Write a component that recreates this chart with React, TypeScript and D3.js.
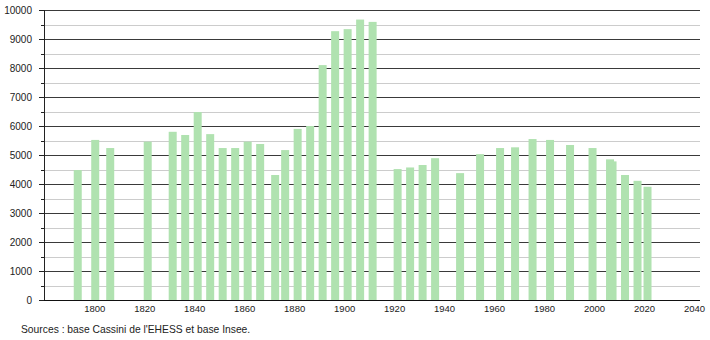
import React from "react";
import * as d3 from "d3";

const years = [1793, 1800, 1806, 1821, 1831, 1836, 1841, 1846, 1851, 1856, 1861, 1866, 1872, 1876, 1881, 1886, 1891, 1896, 1901, 1906, 1911, 1921, 1926, 1931, 1936, 1946, 1954, 1962, 1968, 1975, 1982, 1990, 1999, 2006, 2007, 2012, 2017, 2021];
const population = [4480, 5520, 5240, 5460, 5800, 5690, 6480, 5720, 5240, 5240, 5460, 5380, 4310, 5170, 5900, 6000, 8100, 9270, 9340, 9670, 9590, 4515, 4570, 4655, 4890, 4375, 5030, 5240, 5265, 5550, 5520, 5345, 5240, 4850, 4780, 4310, 4110, 3905];
const xTicks = [1800, 1820, 1840, 1860, 1880, 1900, 1920, 1940, 1960, 1980, 2000, 2020, 2040];
const yMajor = [0, 1000, 2000, 3000, 4000, 5000, 6000, 7000, 8000, 9000, 10000];
const yMinor = [500, 1500, 2500, 3500, 4500, 5500, 6500, 7500, 8500, 9500];
const sourceText = "Sources : base Cassini de l'EHESS et base Insee.";

const W = 710;
const H = 340;
const FONT = "'Liberation Sans', Arial, Helvetica, sans-serif";

export default function App() {
  const x = d3.scaleLinear().domain([1779.5, 2042]).range([44, 700]);
  const y = d3.scaleLinear().domain([0, 10000]).range([300, 10]);
  const barW = 8;
  const data = years.map((yr, i) => ({ yr, v: population[i] }));

  return (
    <svg
      width={W}
      height={H}
      viewBox={`0 0 ${W} ${H}`}
      style={{ position: "absolute", left: 0, top: 0, background: "#fff" }}
    >
      <rect x={0} y={0} width={W} height={H} fill="#fff" />
      {yMinor.map((v) => (
        <line key={"mi" + v} x1={44} x2={700} y1={Math.round(y(v)) + 0.5} y2={Math.round(y(v)) + 0.5} stroke="#cccccc" strokeWidth={1} />
      ))}
      {yMajor.map((v) => (
        <line key={"ma" + v} x1={44} x2={700} y1={Math.round(y(v)) + 0.5} y2={Math.round(y(v)) + 0.5} stroke="#3a3a3a" strokeWidth={1} />
      ))}
      {data.map((d) => (
        <rect
          key={d.yr}
          x={x(d.yr) - barW / 2}
          y={y(d.v)}
          width={barW}
          height={y(0) - y(d.v)}
          fill="#b0e2b0"
        />
      ))}
      <line x1={44.5} x2={44.5} y1={y(10000)} y2={y(0) + 0.5} stroke="#222" strokeWidth={1} />
      {yMajor.map((v) => (
        <line key={"tk" + v} x1={39} x2={44} y1={Math.round(y(v)) + 0.5} y2={Math.round(y(v)) + 0.5} stroke="#222" strokeWidth={1} />
      ))}
      {yMinor.map((v) => (
        <line key={"tm" + v} x1={41} x2={44} y1={Math.round(y(v)) + 0.5} y2={Math.round(y(v)) + 0.5} stroke="#222" strokeWidth={1} />
      ))}
      {yMajor.map((v) => (
        <text key={"yl" + v} x={32} y={y(v)} dy="0.35em" textAnchor="end" fontFamily={FONT} fontSize={10} fill="#222">
          {v}
        </text>
      ))}
      <line x1={44} x2={700} y1={300.5} y2={300.5} stroke="#111" strokeWidth={1} />
      {xTicks.map((t) => (
        <text key={"xl" + t} x={x(t) - 0.5} y={312} textAnchor="middle" fontFamily={FONT} fontSize={9.5} fill="#222">
          {t}
        </text>
      ))}
      <text x={21} y={333} fontFamily={FONT} fontSize={10.3} fill="#222">
        {sourceText}
      </text>
    </svg>
  );
}
